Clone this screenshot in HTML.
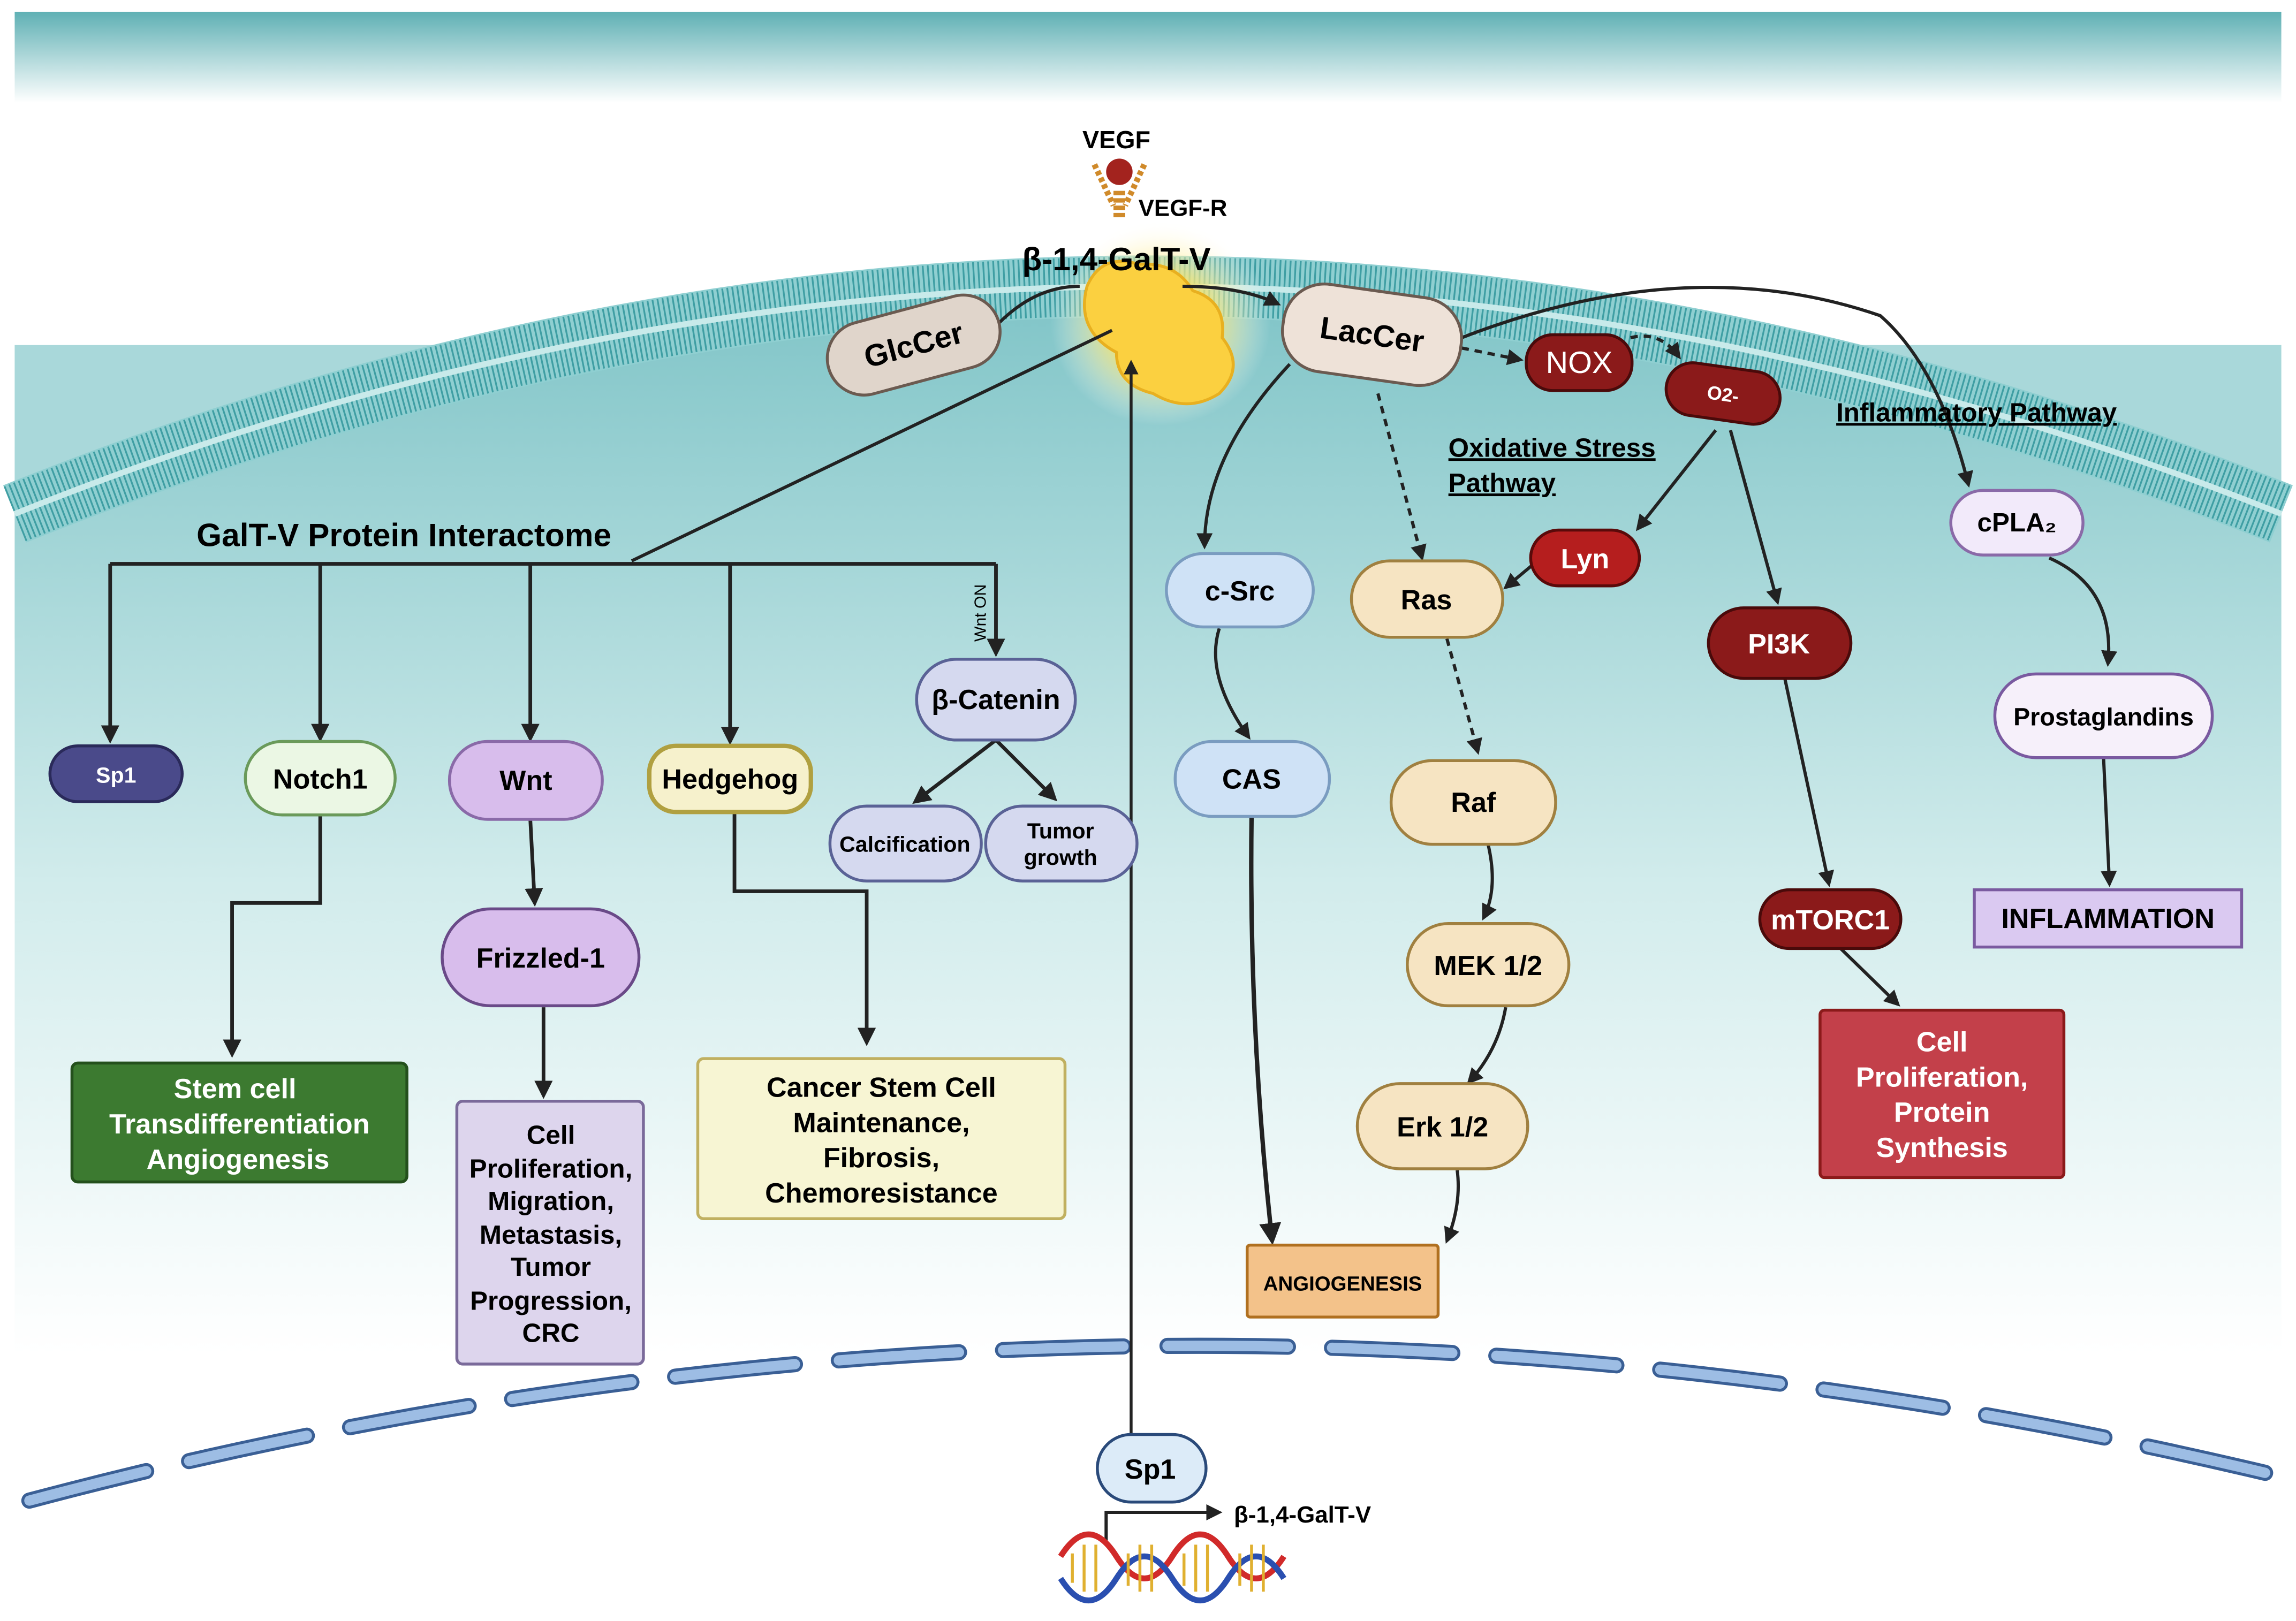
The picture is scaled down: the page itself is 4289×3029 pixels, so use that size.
<!DOCTYPE html>
<html><head><meta charset="utf-8"><style>
html,body{margin:0;padding:0;background:#fff;}
svg{display:block;}
text{font-family:"Liberation Sans",sans-serif;font-weight:bold;}
</style></head><body>
<svg width="4289" height="3029" viewBox="0 0 1563 1104" preserveAspectRatio="none" xmlns="http://www.w3.org/2000/svg">
<defs>
<linearGradient id="top" x1="0" y1="0" x2="0" y2="1"><stop offset="0" stop-color="#5fb0b4"/><stop offset="1" stop-color="#ffffff"/></linearGradient>
<linearGradient id="cell" x1="0" y1="0" x2="0" y2="1"><stop offset="0" stop-color="#7fc4c7"/><stop offset="0.45" stop-color="#d2ecec"/><stop offset="0.8" stop-color="#ffffff"/></linearGradient>
<linearGradient id="side" x1="0" y1="0" x2="0" y2="1"><stop offset="0" stop-color="#b9e0e1"/><stop offset="1" stop-color="#8fcccf"/></linearGradient>
<radialGradient id="glow"><stop offset="0.4" stop-color="#ffe45a" stop-opacity="0.9"/><stop offset="1" stop-color="#fff" stop-opacity="0"/></radialGradient>
<marker id="a" viewBox="0 0 10 10" refX="8" refY="5" markerWidth="5" markerHeight="5" orient="auto"><path d="M0,0 L10,5 L0,10 z" fill="#222"/></marker>
</defs>
<rect x="10" y="8" width="1543" height="62" fill="url(#top)"/>
<rect x="10" y="235" width="1543" height="200" fill="url(#side)"/>
<path d="M10,350 Q780,40 1553,350 L1553,1104 L10,1104 Z" fill="url(#cell)"/>
<path d="M10,350 Q780,40 1553,350 L1553,235 L1553,70 L10,70 L10,235 Z" fill="#fff"/>
<path d="M10,235 L10,350 Q200,275 400,235 Z" fill="#a9d8da"/>
<path d="M1553,235 L1553,350 Q1363,275 1163,235 Z" fill="#a9d8da"/>
<path d="M10,350 Q780,40 1553,350" fill="none" stroke="#8fcfd1" stroke-width="42"/>
<path d="M10,350 Q780,40 1553,350" fill="none" stroke="#3f9ea3" stroke-width="40" stroke-dasharray="1.2 2.2"/>
<path d="M10,350 Q780,40 1553,350" fill="none" stroke="#c8eaea" stroke-width="4"/>
<!-- nucleus -->
<path d="M20,1022 Q780,820 1550,1005" fill="none" stroke="#3a5f95" stroke-width="11" stroke-dasharray="82 30" stroke-linecap="round"/>
<path d="M20,1022 Q780,820 1550,1005" fill="none" stroke="#9dbde4" stroke-width="7" stroke-dasharray="82 30" stroke-linecap="round"/>
<!-- VEGF -->
<text x="760" y="101" font-size="17" text-anchor="middle">VEGF</text>
<path d="M745,112 L758,140 M779,112 L766,140 M760,130 L760,150 M764,130 L764,150" stroke="#d08a2a" stroke-width="4" stroke-dasharray="3 2"/>
<circle cx="762" cy="117" r="9" fill="#a3231e"/>
<text x="775" y="147" font-size="16">VEGF-R</text>
<ellipse cx="790" cy="220" rx="75" ry="70" fill="url(#glow)"/>
<path d="M740,195 Q750,172 775,180 Q800,178 812,198 Q835,205 832,230 Q848,250 830,268 Q808,282 785,268 Q760,262 760,240 Q732,225 740,195 Z" fill="#fbd040" stroke="#e8b020" stroke-width="2"/>
<text x="760" y="184" font-size="22" text-anchor="middle">β-1,4-GalT-V</text>
<!-- connectors top -->
<path d="M680,220 Q705,195 735,195" fill="none" stroke="#222" stroke-width="2.2"/>
<path d="M805,195 Q845,195 870,207" fill="none" stroke="#222" stroke-width="2.2" marker-end="url(#a)"/>
<path d="M757,225 L430,382" stroke="#222" stroke-width="2.2"/>
<path d="M770,990 L770,247" stroke="#222" stroke-width="2" marker-end="url(#a)"/>
<path d="M995,230 Q1150,170 1280,215 Q1320,250 1340,330" fill="none" stroke="#222" stroke-width="2.2" marker-end="url(#a)"/>
<path d="M995,237 L1035,245" stroke="#222" stroke-width="2.2" stroke-dasharray="5 4" marker-end="url(#a)"/>
<path d="M1110,230 Q1130,225 1143,243" fill="none" stroke="#222" stroke-width="2.2" stroke-dasharray="5 4" marker-end="url(#a)"/>
<path d="M878,248 Q820,310 820,372" fill="none" stroke="#222" stroke-width="2.2" marker-end="url(#a)"/>
<path d="M938,268 L968,380" stroke="#222" stroke-width="2.2" stroke-dasharray="5 4" marker-end="url(#a)"/>
<path d="M1168,293 L1115,360" stroke="#222" stroke-width="2.2" marker-end="url(#a)"/>
<path d="M1178,293 L1210,410" stroke="#222" stroke-width="2.2" marker-end="url(#a)"/>
<path d="M1043,385 L1025,400" stroke="#222" stroke-width="2.2" marker-end="url(#a)"/>
<path d="M1395,380 Q1440,400 1435,452" fill="none" stroke="#222" stroke-width="2.2" marker-end="url(#a)"/>
<path d="M1432,516 L1436,602" stroke="#222" stroke-width="2.2" marker-end="url(#a)"/>
<path d="M1215,462 L1245,602" stroke="#222" stroke-width="2.2" marker-end="url(#a)"/>
<path d="M1253,646 L1292,684" stroke="#222" stroke-width="2.2" marker-end="url(#a)"/>
<path d="M830,428 Q820,460 850,502" fill="none" stroke="#222" stroke-width="2.2" marker-end="url(#a)"/>
<path d="M852,556 Q850,700 866,845" fill="none" stroke="#222" stroke-width="3" marker-end="url(#a)"/>
<path d="M985,435 L1006,512" stroke="#222" stroke-width="2.2" stroke-dasharray="5 4" marker-end="url(#a)"/>
<path d="M1013,575 Q1020,605 1010,625" fill="none" stroke="#222" stroke-width="2.2" marker-end="url(#a)"/>
<path d="M1025,686 Q1020,715 1000,737" fill="none" stroke="#222" stroke-width="2.2" marker-end="url(#a)"/>
<path d="M992,797 Q995,820 985,845" fill="none" stroke="#222" stroke-width="2.2" marker-end="url(#a)"/>
<!-- interactome -->
<text x="275" y="372" font-size="22" text-anchor="middle">GalT-V Protein Interactome</text>
<path d="M75,384 L678,384" stroke="#222" stroke-width="2.5"/>
<path d="M75,384 L75,504" stroke="#222" stroke-width="2.5" marker-end="url(#a)"/>
<path d="M218,384 L218,503" stroke="#222" stroke-width="2.5" marker-end="url(#a)"/>
<path d="M361,384 L361,503" stroke="#222" stroke-width="2.5" marker-end="url(#a)"/>
<path d="M497,384 L497,505" stroke="#222" stroke-width="2.5" marker-end="url(#a)"/>
<path d="M678,384 L678,445" stroke="#222" stroke-width="2.5" marker-end="url(#a)"/>
<text transform="translate(671,437) rotate(-90)" font-size="11" style="font-weight:normal">Wnt ON</text>
<path d="M218,556 L218,615 L158,615 L158,718" fill="none" stroke="#222" stroke-width="2.5" marker-end="url(#a)"/>
<path d="M361,558 L364,615" stroke="#222" stroke-width="2.5" marker-end="url(#a)"/>
<path d="M370,686 L370,746" stroke="#222" stroke-width="2.5" marker-end="url(#a)"/>
<path d="M500,553 L500,607 L590,607 L590,710" fill="none" stroke="#222" stroke-width="2.5" marker-end="url(#a)"/>
<path d="M678,504 L623,546" stroke="#222" stroke-width="2.5" marker-end="url(#a)"/>
<path d="M678,504 L718,544" stroke="#222" stroke-width="2.5" marker-end="url(#a)"/>
<!-- nodes -->
<g stroke-width="2">
<rect x="562" y="210" width="120" height="50" rx="25" fill="#e0d5cb" stroke="#6b5a50" transform="rotate(-15 622 235)"/>
<rect x="873" y="198" width="122" height="60" rx="28" fill="#eee2d8" stroke="#6b5a50" transform="rotate(8 934 228)"/>
<rect x="1039" y="228" width="72" height="38" rx="18" fill="#8b1a1a" stroke="#4a0a0a"/>
<rect x="1134" y="250" width="78" height="36" rx="18" fill="#8b1a1a" stroke="#4a0a0a" transform="rotate(8 1173 268)"/>
<rect x="1328" y="334" width="90" height="44" rx="22" fill="#f2eafa" stroke="#8a6aa8"/>
<rect x="1042" y="361" width="74" height="38" rx="19" fill="#b51e1e" stroke="#5a0a0a"/>
<rect x="794" y="377" width="100" height="50" rx="25" fill="#cfe2f6" stroke="#7a9cc0"/>
<rect x="920" y="382" width="103" height="52" rx="26" fill="#f6e4c2" stroke="#a08040"/>
<rect x="1163" y="414" width="97" height="48" rx="24" fill="#8b1a1a" stroke="#4a0a0a"/>
<rect x="1358" y="459" width="148" height="57" rx="28" fill="#f6f0fa" stroke="#7a5aa0"/>
<rect x="800" y="505" width="105" height="51" rx="25" fill="#cfe2f6" stroke="#7a9cc0"/>
<rect x="947" y="518" width="112" height="57" rx="28" fill="#f6e4c2" stroke="#a08040"/>
<rect x="1198" y="606" width="96" height="40" rx="20" fill="#8b1a1a" stroke="#4a0a0a"/>
<rect x="1344" y="606" width="182" height="39" fill="#dac9f1" stroke="#7a5aa0"/>
<rect x="958" y="629" width="110" height="56" rx="28" fill="#f6e4c2" stroke="#a08040"/>
<rect x="1239" y="688" width="166" height="114" rx="3" fill="#c3404a" stroke="#8b1a1a"/>
<rect x="924" y="738" width="116" height="58" rx="29" fill="#f6e4c2" stroke="#a08040"/>
<rect x="849" y="848" width="130" height="49" rx="2" fill="#f3c28a" stroke="#b07020"/>
<rect x="34" y="508" width="90" height="38" rx="19" fill="#4a4a8a" stroke="#2a2a5a"/>
<rect x="167" y="505" width="102" height="50" rx="25" fill="#ebf7e4" stroke="#6a9a5a"/>
<rect x="306" y="505" width="104" height="53" rx="26" fill="#d8bdec" stroke="#8a6aa8"/>
<rect x="442" y="508" width="110" height="45" rx="18" fill="#f6f1cc" stroke="#b0a040" stroke-width="3"/>
<rect x="624" y="449" width="108" height="55" rx="27" fill="#d5d9ef" stroke="#5a6296"/>
<rect x="565" y="549" width="103" height="51" rx="25" fill="#d5d9ef" stroke="#5a6296"/>
<rect x="671" y="549" width="103" height="51" rx="25" fill="#d5d9ef" stroke="#5a6296"/>
<rect x="301" y="619" width="134" height="66" rx="33" fill="#d8bdec" stroke="#6a4a88"/>
<rect x="49" y="724" width="228" height="81" rx="4" fill="#3c7a30" stroke="#24501c"/>
<rect x="311" y="750" width="127" height="179" rx="4" fill="#ddd5ed" stroke="#7a6a9a"/>
<rect x="475" y="721" width="250" height="109" rx="4" fill="#f7f5d3" stroke="#c0b060"/>
<rect x="747" y="977" width="74" height="46" rx="23" fill="#dcebf8" stroke="#2a4a7a"/>
</g>
<g font-size="19" text-anchor="middle">
<text x="622" y="242" transform="rotate(-15 622 235)" font-size="21">GlcCer</text>
<text x="934" y="235" transform="rotate(8 934 228)" font-size="21">LacCer</text>
<text x="1075" y="254" fill="#fff" style="font-weight:normal" font-size="21">NOX</text>
<text x="1173" y="273" fill="#fff" font-size="13" transform="rotate(8 1173 268)">O2-</text>
<text x="1373" y="362" font-size="18">cPLA₂</text>
<text x="1079" y="387" fill="#fff">Lyn</text>
<text x="844" y="409">c-Src</text>
<text x="971" y="415">Ras</text>
<text x="1211" y="445" fill="#fff">PI3K</text>
<text x="1432" y="494" font-size="17">Prostaglandins</text>
<text x="852" y="537">CAS</text>
<text x="1003" y="553">Raf</text>
<text x="1246" y="633" fill="#fff">mTORC1</text>
<text x="1435" y="632">INFLAMMATION</text>
<text x="1013" y="664">MEK 1/2</text>
<text x="982" y="774">Erk 1/2</text>
<text x="914" y="879" font-size="14">ANGIOGENESIS</text>
<text x="1322" y="716" fill="#fff">Cell</text>
<text x="1322" y="740" fill="#fff">Proliferation,</text>
<text x="1322" y="764" fill="#fff">Protein</text>
<text x="1322" y="788" fill="#fff">Synthesis</text>
<text x="79" y="533" fill="#fff" font-size="15">Sp1</text>
<text x="218" y="537">Notch1</text>
<text x="358" y="538">Wnt</text>
<text x="497" y="537">Hedgehog</text>
<text x="678" y="483">β-Catenin</text>
<text x="616" y="580" font-size="15">Calcification</text>
<text x="722" y="571" font-size="15">Tumor</text>
<text x="722" y="589" font-size="15">growth</text>
<text x="368" y="659">Frizzled-1</text>
<text x="160" y="748" fill="#fff">Stem cell</text>
<text x="163" y="772" fill="#fff">Transdifferentiation</text>
<text x="162" y="796" fill="#fff">Angiogenesis</text>
<text x="375" y="779" font-size="18">Cell</text>
<text x="375" y="802" font-size="18">Proliferation,</text>
<text x="375" y="824" font-size="18">Migration,</text>
<text x="375" y="847" font-size="18">Metastasis,</text>
<text x="375" y="869" font-size="18">Tumor</text>
<text x="375" y="892" font-size="18">Progression,</text>
<text x="375" y="914" font-size="18">CRC</text>
<text x="600" y="747">Cancer Stem Cell</text>
<text x="600" y="771">Maintenance,</text>
<text x="600" y="795">Fibrosis,</text>
<text x="600" y="819">Chemoresistance</text>
<text x="783" y="1007">Sp1</text>
</g>
<g font-size="18" text-decoration="underline">
<text x="1250" y="287">Inflammatory Pathway</text>
<text x="986" y="311">Oxidative Stress</text>
<text x="986" y="335">Pathway</text>
</g>
<!-- DNA -->
<path d="M753,1050 L753,1030 L830,1030" fill="none" stroke="#222" stroke-width="2.2" marker-end="url(#a)"/>
<text x="840" y="1037" font-size="16">β-1,4-GalT-V</text>
<path d="M722,1060 Q741,1030 760,1060 T798,1060 T836,1060 T874,1060" fill="none" stroke="#d12a2a" stroke-width="4"/>
<path d="M722,1075 Q741,1105 760,1075 T798,1075 T836,1075 T874,1075" fill="none" stroke="#2a4fb0" stroke-width="4"/>
<path d="M730,1058 V1078 M738,1052 V1084 M746,1052 V1084 M768,1058 V1080 M776,1052 V1084 M784,1052 V1084 M806,1058 V1080 M814,1052 V1084 M822,1052 V1084 M844,1058 V1080 M852,1052 V1084 M860,1052 V1084" stroke="#e0b030" stroke-width="2"/>
</svg>
</body></html>
